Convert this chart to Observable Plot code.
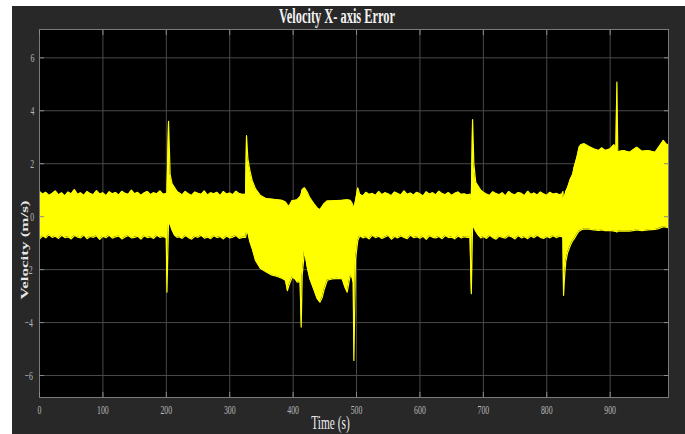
<!DOCTYPE html>
<html><head><meta charset="utf-8">
<script src="https://cdn.jsdelivr.net/npm/d3@7"></script>
<script src="https://cdn.jsdelivr.net/npm/@observablehq/plot@0.6"></script>
<style>
html,body{margin:0;padding:0;background:#fff;}
#panel{position:absolute;left:12px;top:6px;width:673px;height:428px;background:#282828;}
#panel text{-webkit-font-smoothing:antialiased;}
</style></head><body><div id="panel"></div>
<script>
const titleText = "Velocity X- axis Error";
const xLabel = "Time (s)";
const yLabel = "Velocity (m/s)";
const xTicks = [0, 100, 200, 300, 400, 500, 600, 700, 800, 900];
const yTicks = [-6, -4, -2, 0, 2, 4, 6];

// time stamps (s) of the envelope samples
const time = [
  0,5,10,15,20,25,30,35,40,45,50,55,60,65,70,75,80,85,90,95,100,105,110,115,120,125,130,135,140,145,150,155,160,165,170,175,180,185,190,195,200,
  201,203.5,206,209,213,217,
  220,225,230,235,240,245,250,255,260,265,270,275,280,285,290,295,300,305,310,315,320,
  325,326.5,328.6,331.8,335.4,340.7,348.6,357.6,366,374.9,
  382,388,391,393.3,398.6,403,406.5,411,412.7,414.3,
  418,422.2,426.4,432.7,438,442.2,445.9,448.5,453.8,461.7,
  469.5,477.4,481.6,485.3,489.5,492,494.8,495.8,498.4,502,
  505,510,515,520,525,530,535,540,545,550,555,560,565,570,575,580,585,590,595,600,605,610,615,620,625,630,635,640,645,650,655,660,665,670,675,
  679,681,683,685,688,692,696,
  700,705,710,715,720,725,730,735,740,745,750,755,760,765,770,775,780,785,790,795,800,805,810,815,820,
  824,825.5,826.5,828,830,833,837,841,843,847.7,
  851,854,859,866.6,874,882,887,892,900,906,
  909,910.6,912,921,931,942,950,960,971,976,
  984,988,992
];

// upper edge of the oscillating error signal (m/s)
const upperEnv = [
  0.95,0.85,0.92,0.80,0.88,0.97,0.82,0.90,0.78,0.93,0.86,1.02,0.84,0.90,0.80,0.95,0.87,0.83,0.98,0.85,
  0.90,0.79,0.94,0.86,0.91,0.81,0.96,0.88,0.84,1.00,0.86,0.92,0.80,0.89,0.95,0.83,0.90,0.86,0.97,0.84,0.88,
  0.85,3.60,1.60,1.25,1.10,0.95,
  0.90,0.82,0.95,0.86,0.80,0.93,0.88,0.84,0.97,0.81,0.90,0.86,0.92,0.79,0.95,0.85,0.89,0.83,0.96,0.87,0.84,
  0.85,3.06,2.18,1.74,1.37,1.05,0.80,0.68,0.66,0.64,
  0.62,0.55,0.45,0.38,0.61,0.62,0.64,0.75,0.85,1.02,
  1.09,0.93,0.71,0.49,0.33,0.26,0.38,0.48,0.59,0.60,
  0.61,0.62,0.63,0.64,0.62,0.55,0.40,0.30,0.60,1.09,
  0.85,0.78,0.92,0.84,0.88,0.80,0.95,0.83,0.90,0.86,0.79,0.93,0.87,0.82,0.97,0.84,0.89,0.81,0.92,0.86,
  0.78,0.94,0.85,0.90,0.82,0.96,0.87,0.83,0.91,0.80,0.88,0.93,0.84,0.86,0.82,
  0.85,0.60,3.67,2.00,1.30,1.15,1.00,
  0.92,0.85,0.80,0.94,0.87,0.83,0.90,0.78,0.95,0.86,0.82,0.91,0.88,0.79,0.96,0.84,0.89,0.81,0.93,0.86,
  0.80,0.92,0.85,0.88,0.83,
  0.85,0.95,0.60,0.75,0.95,1.10,1.40,1.60,1.85,2.25,
  2.62,2.72,2.75,2.65,2.56,2.50,2.60,2.50,2.56,2.72,
  2.55,5.08,2.45,2.50,2.43,2.62,2.47,2.50,2.43,2.60,
  2.88,2.75,2.70
];

// lower edge of the oscillating error signal (m/s)
const lowerEnv = [
  -0.85,-0.72,-0.80,-0.68,-0.78,-0.74,-0.82,-0.70,-0.79,-0.76,-0.84,-0.71,-0.77,-0.80,-0.69,-0.83,-0.75,-0.78,-0.72,-0.86,
  -0.74,-0.79,-0.70,-0.81,-0.76,-0.73,-0.84,-0.77,-0.71,-0.80,-0.78,-0.74,-0.85,-0.72,-0.79,-0.76,-0.82,-0.70,-0.78,-0.75,-0.80,
  -2.85,-0.20,-0.30,-0.50,-0.70,-0.78,
  -0.76,-0.82,-0.71,-0.79,-0.85,-0.74,-0.78,-0.70,-0.81,-0.77,-0.83,-0.72,-0.79,-0.75,-0.84,-0.73,-0.80,-0.77,-0.71,-0.82,-0.78,
  -0.78,-0.60,-0.60,-0.95,-1.20,-1.65,-1.96,-2.09,-2.20,-2.26,
  -2.32,-2.41,-2.79,-2.60,-2.28,-2.35,-2.47,-2.45,-4.17,-2.20,
  -1.28,-1.90,-2.35,-2.75,-3.10,-3.23,-3.05,-2.79,-2.40,-2.35,
  -2.33,-2.35,-2.66,-2.85,-2.28,-2.20,-2.50,-5.43,-1.60,-0.90,
  -0.72,-0.80,-0.76,-0.84,-0.70,-0.79,-0.74,-0.82,-0.77,-0.71,-0.85,-0.75,-0.80,-0.73,-0.78,-0.83,-0.70,-0.79,-0.76,-0.81,
  -0.74,-0.86,-0.72,-0.78,-0.80,-0.75,-0.83,-0.71,-0.79,-0.77,-0.84,-0.73,-0.80,-0.76,-0.78,
  -0.78,-2.91,-0.30,-0.40,-0.55,-0.70,-0.80,
  -0.75,-0.82,-0.70,-0.79,-0.85,-0.74,-0.78,-0.81,-0.72,-0.77,-0.84,-0.71,-0.80,-0.76,-0.83,-0.73,-0.79,-0.70,-0.78,-0.82,
  -0.75,-0.80,-0.72,-0.79,-0.74,
  -0.75,-0.80,-2.97,-2.30,-1.70,-1.35,-1.10,-0.90,-0.85,-0.65,
  -0.55,-0.50,-0.46,-0.47,-0.50,-0.52,-0.50,-0.53,-0.52,-0.55,
  -0.56,-0.58,-0.55,-0.54,-0.55,-0.50,-0.53,-0.50,-0.48,-0.45,
  -0.38,-0.40,-0.42
];

const data = time.map((t, i) => ({t, hi: upperEnv[i], lo: lowerEnv[i]}));
const serif = "'Liberation Serif','Times New Roman',serif";
const yellow = "#ffff00";

const chart = Plot.plot({
  width: 673, height: 428,
  marginLeft: 27, marginRight: 17, marginTop: 23, marginBottom: 37,
  style: {background: "transparent", fontFamily: serif, overflow: "visible"},
  x: {domain: [0, 992]},
  y: {domain: [-6.83, 7.07]},
  marks: [
    Plot.frame({fill: "#000"}),
    Plot.gridX(xTicks, {stroke: "#4a4a4a", strokeOpacity: 1}),
    Plot.gridY(yTicks, {stroke: "#4a4a4a", strokeOpacity: 1}),
    Plot.areaY(data, {x: "t", y1: "lo", y2: "hi", fill: yellow}),
    Plot.line(data, {x: "t", y: "hi", stroke: yellow, strokeWidth: 1.2}),
    Plot.line(data, {x: "t", y: "lo", stroke: yellow, strokeWidth: 1.2}),
    Plot.frame({stroke: "#7a7a7a"}),
    Plot.axisX(xTicks, {anchor: "bottom", tickSize: 0, tickPadding: 7, fontSize: 13, fill: "#b8b8b8", label: null}),
    Plot.axisY(yTicks, {anchor: "left", tickSize: 0, tickPadding: 4, fontSize: 13, fill: "#b8b8b8", label: null}),
    Plot.axisX(xTicks, {anchor: "bottom", tickSize: -5, tickFormat: () => "", stroke: "#8a8a8a", label: null}),
    Plot.axisX(xTicks, {anchor: "top", tickSize: -5, tickFormat: () => "", stroke: "#8a8a8a", label: null}),
    Plot.axisY(yTicks, {anchor: "left", tickSize: -5, tickFormat: () => "", stroke: "#8a8a8a", label: null}),
    Plot.axisY(yTicks, {anchor: "right", tickSize: -5, tickFormat: () => "", stroke: "#8a8a8a", label: null}),
    Plot.text([titleText], {frameAnchor: "top", textAnchor: "middle", dx: -17, dy: -12.5, lineAnchor: "middle", fontSize: 20, fontWeight: "bold", fill: "#f2f2f2"}),
    Plot.text([xLabel], {frameAnchor: "bottom", textAnchor: "middle", dx: -23.5, dy: 25, lineAnchor: "middle", fontSize: 19, fill: "#ececec"}),
    Plot.text([yLabel], {frameAnchor: "left", textAnchor: "middle", rotate: -90, dx: -15, dy: 36.5, lineAnchor: "middle", fontSize: 17, fontWeight: "bold", fill: "#e6e6e6"})
  ]
});

document.getElementById("panel").append(chart);

// narrow serif lettering as in the reference
chart.querySelectorAll("text").forEach(el => {
  const txt = el.textContent;
  if (!txt) return;
  const b = el.getBBox();
  const cx = b.x + b.width / 2, cy = b.y + b.height / 2;
  const s = txt === titleText ? 0.62 : 0.6;
  const sc = txt === yLabel ? `scale(1,${s})` : `scale(${s},1)`;
  const prev = el.getAttribute("transform") || "";
  el.setAttribute("transform", `${prev} translate(${cx},${cy}) ${sc} translate(${-cx},${-cy})`);
});
</script>
</body></html>
